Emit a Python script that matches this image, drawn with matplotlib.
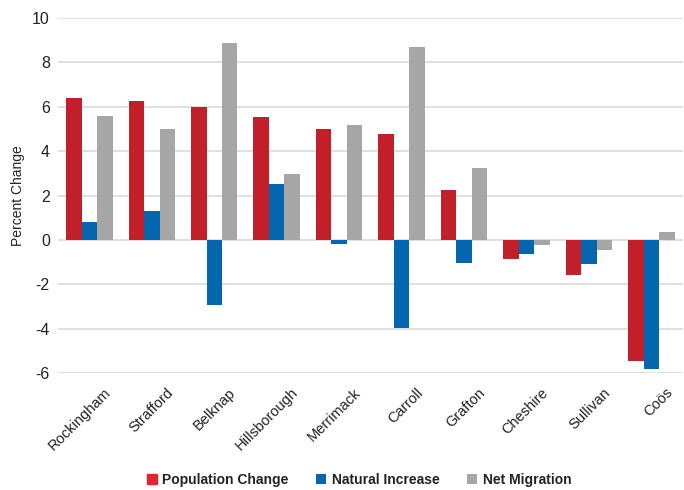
import numpy as np
import matplotlib.pyplot as plt
from matplotlib.transforms import ScaledTranslation

plt.rcParams['font.family'] = ['Liberation Sans', 'DejaVu Sans']
plt.rcParams['axes.unicode_minus'] = False

counties = ['Rockingham', 'Strafford', 'Belknap', 'Hillsborough', 'Merrimack',
            'Carroll', 'Grafton', 'Cheshire', 'Sullivan', 'Coös']
pop_change = [6.41, 6.27, 6.0, 5.53, 5.01, 4.77, 2.24, -0.87, -1.58, -5.45]
nat_increase = [0.81, 1.28, -2.93, 2.51, -0.18, -3.98, -1.05, -0.63, -1.11, -5.81]
net_migration = [5.57, 4.99, 8.89, 2.99, 5.18, 8.71, 3.23, -0.24, -0.48, 0.35]

fig = plt.figure(figsize=(6.84, 4.9), dpi=100)
ax = fig.add_axes([0.085, 0.239, 0.913, 0.724])

x = np.arange(len(counties))
w = 0.248
ax.bar(x - w, pop_change, w, color='#C1202A', label='Population Change', zorder=3)
ax.bar(x, nat_increase, w, color='#0366AE', label='Natural Increase', zorder=3)
ax.bar(x + w, net_migration, w, color='#A6A6A6', label='Net Migration', zorder=3)

ax.set_ylim(-6, 10)
ax.set_xlim(-0.5, len(counties) - 0.5)
ax.set_yticks(range(-6, 11, 2))
ax.yaxis.grid(True, color='#DADADA', linewidth=1.2, zorder=0)
for s in ax.spines.values():
    s.set_visible(False)
ax.tick_params(axis='both', length=0, labelsize=11.5, colors='#222222')
ax.tick_params(axis='y', pad=6)
ax.tick_params(axis='x', pad=9)
ax.set_xticks(x)
ax.set_xticklabels(counties, rotation=45, ha='right', rotation_mode='anchor', fontsize=10.5)
# shift the rotated labels a bit to the right, like the original
offset = ScaledTranslation(14 / 100, 0, fig.dpi_scale_trans)
for lbl in ax.get_xticklabels():
    lbl.set_transform(lbl.get_transform() + offset)
ax.set_ylabel('Percent Change', fontsize=10, color='#222222', labelpad=5)

leg = fig.legend(loc='center', ncol=3, frameon=False, bbox_to_anchor=(0.525, 1 - 480 / 490),
                 prop={'weight': 'bold', 'size': 10}, handlelength=0.7, handleheight=0.7,
                 columnspacing=2.0, handletextpad=0.4)
for t in leg.get_texts():
    t.set_color('#222222')
leg.legend_handles[0].set_color('#E3252D')

fig.savefig('out.png', dpi=100)
